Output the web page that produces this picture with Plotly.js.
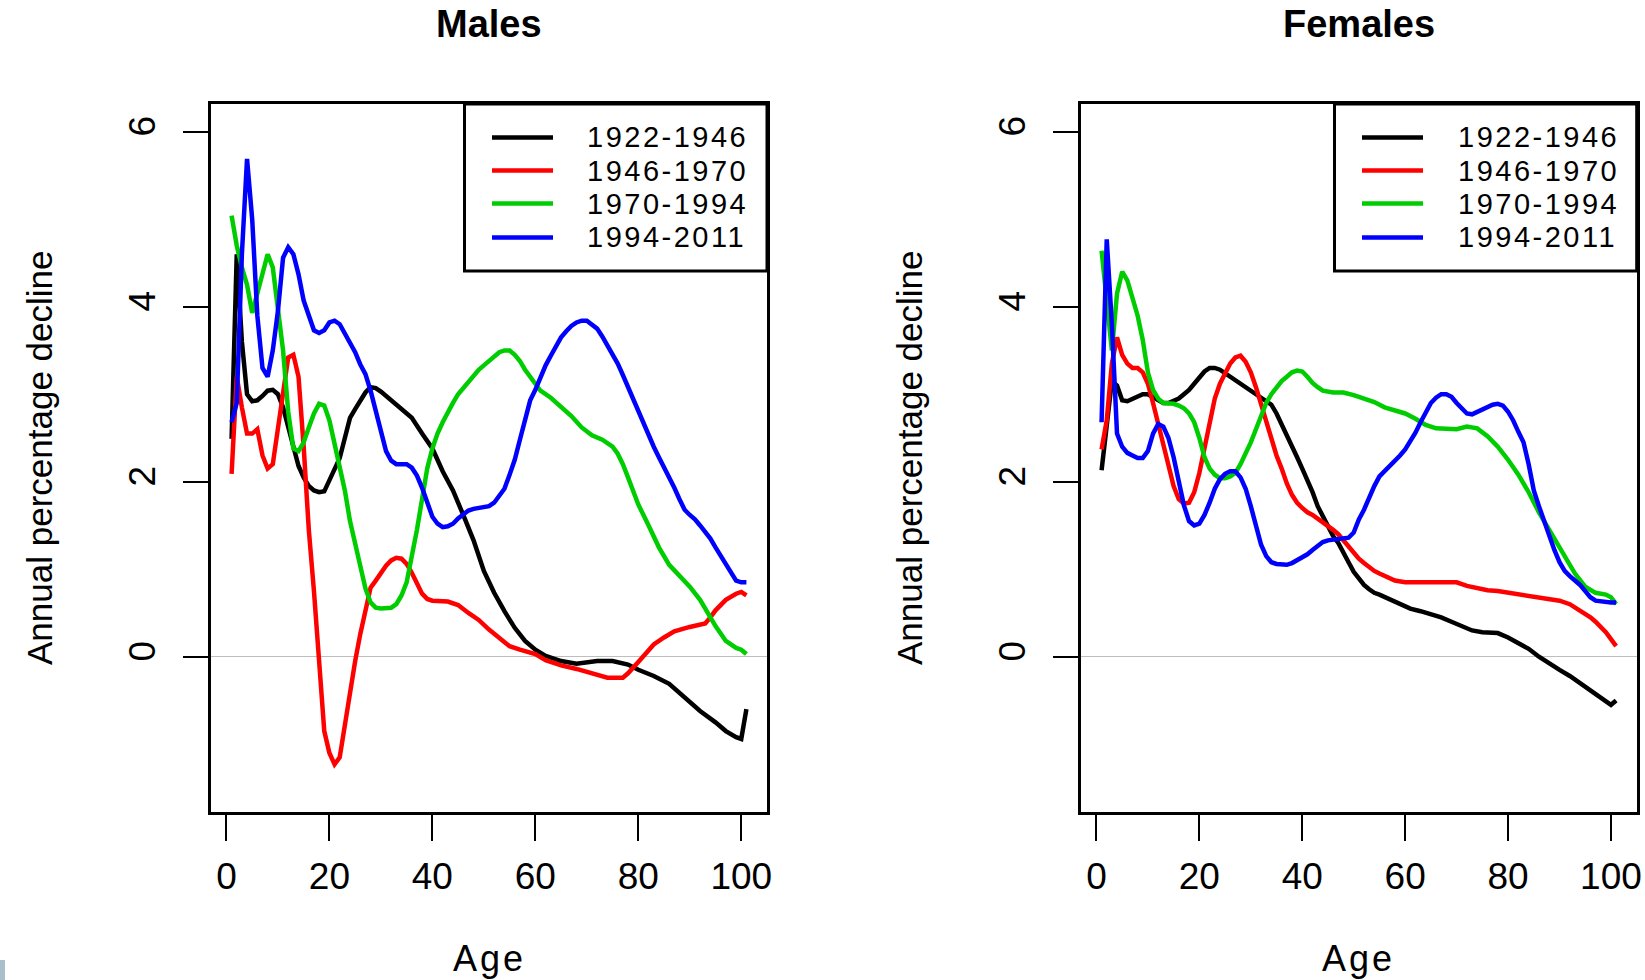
<!DOCTYPE html>
<html>
<head>
<meta charset="utf-8">
<script src="https://cdn.plot.ly/plotly-3.0.1.min.js"></script>
<style>
html,body{margin:0;padding:0;background:#ffffff;}
#chart{width:1645px;height:980px;}
</style>
</head>
<body>
<div id="chart"></div>
<script>
// ---------------- data ----------------
const periods = ['1922-1946', '1946-1970', '1970-1994', '1994-2011'];
const panelTitles = ['Males', 'Females'];
const xTitle = 'Age';
const yTitle = 'Annual percentage decline';
const xTicks = [0, 20, 40, 60, 80, 100];
const yTicks = [0, 2, 4, 6];

const allAges = [1,2,3,4,5,6,7,8,9,10,11,12,13,14,15,16,17,18,19,20,21,22,23,24,25,26,27,28,29,30,
  31,32,33,34,35,36,37,38,39,40,41,42,43,44,45,46,47,48,49,50,51,52,53,54,55,56,57,58,59,60,
  61,62,63,64,65,66,67,68,69,70,71,72,73,74,75,76,77,78,79,80,81,82,83,84,85,86,87,88,89,90,
  91,92,93,94,95,96,97,98,99,100,101];

// Males
const maleAges1922 = [1,2,3,4,5,6,7,8,9,10,11,12,13,14,15,16,17,18,19,20,21,22,23,24,25,26,27,28,29,30,
  32,34,36,38,40,42,44,46,48,50,52,54,56,58,60,62,65,68,72,75,78,80,83,86,89,92,95,97,99,100,101];
const male1922 = [2.49,4.6,3.6,3.0,2.92,2.93,2.98,3.04,3.05,3.0,2.85,2.62,2.38,2.18,2.05,1.95,1.9,1.88,1.89,2.02,
  2.13,2.27,2.5,2.73,2.83,2.92,3.02,3.08,3.07,3.03,2.93,2.83,2.73,2.55,2.38,2.12,1.9,1.62,1.33,0.98,
  0.73,0.52,0.33,0.18,0.08,0.01,-0.05,-0.08,-0.05,-0.05,-0.09,-0.15,-0.22,-0.31,-0.47,-0.62,-0.75,-0.85,-0.92,-0.94,-0.6];

const maleAges1946 = [1,2,3,4,5,6,7,8,9,10,11,12,13,14,15,16,17,18,19,20,21,22,23,24,25,26,27,28,29,30,
  31,32,33,34,35,36,37,38,39,40,43,45,47,49,51,53,55,57,60,62,65,68,71,74,77,78,80,81,83,85,
  87,90,93,94,95,97,99,100,101];
const male1946 = [2.09,3.2,2.85,2.55,2.55,2.6,2.3,2.15,2.2,2.6,3.0,3.42,3.45,3.2,2.4,1.45,0.75,-0.02,-0.85,-1.1,
  -1.23,-1.15,-0.77,-0.43,-0.05,0.26,0.53,0.79,0.87,0.96,1.04,1.1,1.13,1.12,1.06,0.96,0.83,0.72,0.66,0.64,
  0.63,0.59,0.5,0.42,0.31,0.21,0.12,0.08,0.03,-0.04,-0.1,-0.14,-0.19,-0.24,-0.24,-0.19,-0.06,0.01,0.14,0.22,
  0.29,0.34,0.38,0.45,0.53,0.65,0.72,0.74,0.7];

const maleAges1970 = [1,2,3,4,5,6,7,8,9,10,11,12,13,14,15,16,17,18,19,20,21,22,23,24,25,26,27,28,29,30,
  31,32,33,34,35,36,37,38,39,40,41,42,43,44,45,46,47,48,49,50,51,52,53,54,55,56,57,58,59,60,
  61,63,65,67,69,71,73,75,76,77,78,79,80,82,84,86,88,90,92,93,95,97,99,100,101];
const male1970 = [5.04,4.7,4.45,4.25,3.93,4.15,4.4,4.6,4.45,4.0,3.5,2.8,2.38,2.35,2.45,2.62,2.78,2.89,2.87,2.7,
  2.45,2.15,1.9,1.55,1.3,1.02,0.78,0.62,0.56,0.55,0.55,0.56,0.6,0.7,0.85,1.12,1.45,1.8,2.15,2.38,
  2.55,2.68,2.8,2.9,3.0,3.07,3.15,3.23,3.28,3.33,3.38,3.42,3.48,3.5,3.5,3.45,3.38,3.28,3.2,3.1,
  3.04,2.96,2.86,2.75,2.62,2.53,2.48,2.4,2.32,2.2,2.05,1.88,1.74,1.5,1.25,1.05,0.92,0.8,0.65,0.55,
  0.35,0.18,0.1,0.08,0.03];

const male1994 = [2.68,2.9,4.6,5.69,5.0,3.9,3.3,3.2,3.5,3.95,4.56,4.68,4.6,4.37,4.07,3.88,3.73,3.7,3.73,3.82,
  3.84,3.8,3.69,3.57,3.48,3.34,3.23,3.04,2.81,2.54,2.35,2.24,2.2,2.2,2.2,2.16,2.07,1.93,1.75,1.6,
  1.52,1.48,1.49,1.52,1.58,1.63,1.67,1.69,1.7,1.7,1.72,1.76,1.84,1.92,2.08,2.25,2.48,2.72,2.93,3.05,
  3.2,3.33,3.44,3.55,3.65,3.72,3.78,3.82,3.84,3.84,3.8,3.75,3.66,3.56,3.45,3.35,3.22,3.08,2.95,2.8,
  2.65,2.52,2.4,2.28,2.17,2.05,1.93,1.8,1.68,1.62,1.57,1.5,1.43,1.35,1.25,1.15,1.05,0.95,0.87,0.85,0.85];

// Females
const femaleAges1922 = [1,2,3,4,5,6,7,8,9,10,11,12,13,14,15,16,17,18,19,20,21,22,23,24,25,26,27,28,29,30,
  31,32,33,34,35,36,37,38,39,40,41,42,43,44,45,46,47,48,49,50,51,52,53,54,55,
  57,59,61,63,65,67,69,71,73,75,78,80,82,84,86,88,90,92,94,96,98,100,101];
const female1922 = [2.13,2.6,3.15,3.1,2.93,2.92,2.95,2.98,3.0,3.0,2.97,2.93,2.9,2.9,2.92,2.95,3.0,3.05,3.12,3.2,
  3.26,3.3,3.3,3.28,3.24,3.2,3.16,3.12,3.08,3.04,2.99,2.95,2.91,2.88,2.78,2.66,2.53,2.4,2.28,2.15,
  2.02,1.88,1.72,1.6,1.5,1.38,1.3,1.18,1.08,0.97,0.89,0.82,0.77,0.73,0.71,
  0.66,0.6,0.55,0.52,0.49,0.45,0.4,0.35,0.3,0.28,0.27,0.22,0.16,0.09,0.0,-0.08,-0.15,-0.22,-0.3,-0.38,-0.46,-0.55,-0.5];

const femaleAges1946 = [1,2,3,4,5,6,7,8,9,10,11,12,13,14,15,16,17,18,19,20,21,22,23,24,25,26,27,28,29,30,
  31,32,33,34,35,36,37,38,39,40,41,42,43,44,45,46,47,48,49,50,51,52,53,54,55,56,57,58,
  60,65,70,72,74,76,78,80,82,84,86,88,90,92,94,95,96,97,98,99,100,101];
const female1946 = [2.37,2.7,3.35,3.65,3.45,3.35,3.3,3.3,3.25,3.12,2.9,2.65,2.45,2.2,1.95,1.8,1.75,1.76,1.88,2.1,
  2.4,2.7,2.95,3.12,3.25,3.35,3.42,3.44,3.37,3.25,3.08,2.88,2.7,2.5,2.3,2.15,1.98,1.85,1.76,1.7,
  1.65,1.62,1.58,1.53,1.5,1.45,1.4,1.33,1.25,1.18,1.12,1.07,1.02,0.98,0.95,0.92,0.89,0.87,
  0.85,0.85,0.85,0.81,0.78,0.76,0.75,0.73,0.72,0.69,0.67,0.66,0.64,0.6,0.53,0.49,0.45,0.4,0.34,0.28,0.2,0.12];

const femaleAges1970 = [1,2,3,4,5,6,7,8,9,10,11,12,13,14,15,16,17,18,19,20,21,22,23,24,25,26,27,28,29,30,
  31,32,33,34,35,36,37,38,39,40,41,42,43,44,
  46,48,50,52,54,56,58,60,62,64,66,68,70,72,74,76,78,80,82,84,86,88,90,92,93,95,97,99,100,101];
const female1970 = [4.64,4.0,3.5,4.15,4.4,4.3,4.1,3.9,3.62,3.25,3.05,2.95,2.9,2.9,2.89,2.87,2.84,2.78,2.68,2.5,
  2.28,2.15,2.08,2.04,2.04,2.06,2.1,2.2,2.32,2.45,2.6,2.75,2.9,3.0,3.08,3.15,3.2,3.25,3.27,3.26,
  3.2,3.13,3.08,3.04,
  3.02,3.02,2.99,2.95,2.91,2.85,2.81,2.78,2.72,2.65,2.61,2.6,2.6,2.63,2.61,2.52,2.4,2.25,2.08,1.88,
  1.65,1.45,1.25,1.05,0.95,0.8,0.73,0.71,0.68,0.6];

const female1994 = [2.68,4.77,3.8,2.55,2.4,2.33,2.3,2.27,2.27,2.35,2.55,2.66,2.63,2.5,2.28,2.0,1.73,1.55,1.5,1.52,
  1.62,1.76,1.92,2.03,2.09,2.12,2.12,2.05,1.92,1.72,1.48,1.28,1.15,1.08,1.06,1.05,1.05,1.07,1.1,1.13,
  1.17,1.22,1.27,1.31,1.33,1.34,1.34,1.35,1.36,1.42,1.57,1.68,1.82,1.95,2.06,2.12,2.17,2.23,2.3,2.37,
  2.46,2.56,2.68,2.8,2.9,2.96,3.0,3.0,2.97,2.9,2.83,2.78,2.77,2.8,2.83,2.85,2.88,2.89,2.87,2.8,
  2.7,2.57,2.45,2.2,1.9,1.72,1.55,1.36,1.22,1.08,0.98,0.92,0.87,0.82,0.75,0.68,0.64,0.63,0.62,0.62,0.62];

// ---------------- styling ----------------
const colors = ['#000000', '#ff0000', '#00cd00', '#0000ff'];
const W = 1645, H = 980;
const FONT = '"Liberation Sans", Arial, Helvetica, sans-serif';
const px = v => v / W;
const py = v => 1 - v / H;

const panels = [
  {xa: 'x', ya: 'y', left: 211, right: 767,
   series: [[maleAges1922, male1922], [maleAges1946, male1946], [maleAges1970, male1970], [allAges, male1994]]},
  {xa: 'x2', ya: 'y2', left: 1081, right: 1636.7,
   series: [[femaleAges1922, female1922], [femaleAges1946, female1946], [femaleAges1970, female1970], [allAges, female1994]]}
];
const TOP = 104, BOTTOM = 812;

const traces = [];
panels.forEach((p) => {
  p.series.forEach((s, si) => {
    traces.push({
      type: 'scatter', mode: 'lines',
      x: s[0], y: s[1],
      xaxis: p.xa, yaxis: p.ya,
      name: periods[si],
      showlegend: false,
      line: {color: colors[si], width: 4.5},
      hoverinfo: 'x+y+name'
    });
  });
});

function xAxis(p) {
  return {
    domain: [px(p.left), px(p.right)],
    range: [-3, 105],
    tickvals: xTicks, ticktext: xTicks.map(String),
    ticks: 'outside', ticklen: 26, tickwidth: 2, tickcolor: '#000',
    ticklabelstandoff: 4,
    showline: true, linewidth: 3, linecolor: '#000', mirror: true,
    showgrid: false, zeroline: false,
    tickfont: {family: FONT, size: 37, color: '#000'},
    anchor: p.ya, fixedrange: true
  };
}
function yAxis(p) {
  return {
    domain: [py(BOTTOM), py(TOP)],
    range: [-1.775, 6.317],
    tickvals: yTicks, ticktext: yTicks.map(String),
    tickangle: -90,
    ticks: 'outside', ticklen: 25, tickwidth: 2, tickcolor: '#000',
    ticklabelstandoff: 13,
    showline: true, linewidth: 3, linecolor: '#000', mirror: true,
    showgrid: false,
    zeroline: true, zerolinecolor: '#bebebe', zerolinewidth: 1.5,
    tickfont: {family: FONT, size: 37, color: '#000'},
    anchor: p.xa, fixedrange: true
  };
}

const shapes = [];
const annotations = [];
const legendGeom = [
  {boxL: 464.5, lineL: 492, lineR: 553, textL: 585},
  {boxL: 1334.5, lineL: 1362, lineR: 1423, textL: 1456}
];
const legendRows = [137.5, 170.5, 203.5, 237.5];
const legendBottom = 271;

panels.forEach((p, pi) => {
  const g = legendGeom[pi];
  const cx = (p.left + p.right) / 2;
  // legend frame
  shapes.push({type: 'rect', xref: 'paper', yref: 'paper',
    x0: px(g.boxL), x1: px(p.right), y0: py(legendBottom), y1: py(TOP),
    line: {color: '#000', width: 3}, fillcolor: '#ffffff', layer: 'above'});
  periods.forEach((name, si) => {
    shapes.push({type: 'line', xref: 'paper', yref: 'paper',
      x0: px(g.lineL), x1: px(g.lineR), y0: py(legendRows[si]), y1: py(legendRows[si]),
      line: {color: colors[si], width: 4.5}, layer: 'above'});
    annotations.push({xref: 'paper', yref: 'paper', x: px(g.textL), y: py(legendRows[si]),
      xanchor: 'left', yanchor: 'middle', showarrow: false,
      text: '<span style="letter-spacing:2.5px">' + name + '</span>',
      font: {family: FONT, size: 29, color: '#000'}});
  });
  // panel title
  annotations.push({xref: 'paper', yref: 'paper', x: px(cx), y: py(24),
    xanchor: 'center', yanchor: 'middle', showarrow: false, text: '<b>' + panelTitles[pi] + '</b>',
    font: {family: FONT, size: 38, color: '#000'}});
  // x axis title
  annotations.push({xref: 'paper', yref: 'paper', x: px(cx), y: py(958),
    xanchor: 'center', yanchor: 'middle', showarrow: false,
    text: '<span style="letter-spacing:3px">' + xTitle + '</span>',
    font: {family: FONT, size: 36, color: '#000'}});
  // y axis title
  annotations.push({xref: 'paper', yref: 'paper', x: px(p.left - 172), y: py((TOP + BOTTOM) / 2),
    xanchor: 'center', yanchor: 'middle', showarrow: false, textangle: -90,
    text: yTitle,
    font: {family: FONT, size: 35, color: '#000'}});
});

// small artefact at bottom-left edge of the original picture
shapes.push({type: 'rect', xref: 'paper', yref: 'paper', x0: 0, x1: px(5), y0: 0, y1: py(960),
  line: {width: 0}, fillcolor: '#a9bfcc', layer: 'above'});

const layout = {
  width: W, height: H,
  margin: {l: 0, r: 0, t: 0, b: 0, pad: 0},
  paper_bgcolor: '#ffffff', plot_bgcolor: '#ffffff',
  showlegend: false,
  font: {family: FONT, color: '#000'},
  xaxis: xAxis(panels[0]), yaxis: yAxis(panels[0]),
  xaxis2: xAxis(panels[1]), yaxis2: yAxis(panels[1]),
  shapes: shapes, annotations: annotations
};

Plotly.newPlot('chart', traces, layout, {displayModeBar: false, staticPlot: true});
</script>
</body>
</html>
